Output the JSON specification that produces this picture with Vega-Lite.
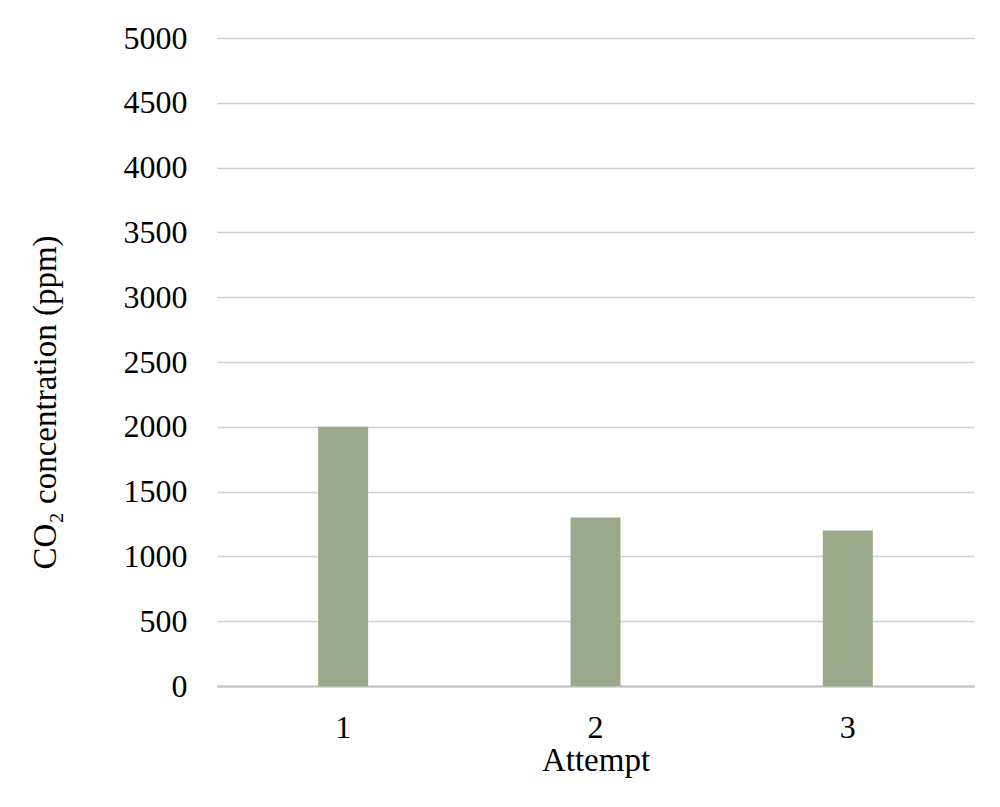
{
  "$schema": "https://vega.github.io/schema/vega-lite/v6.json",
  "autosize": {"type": "none"},
  "padding": {"left": 215, "top": 38, "right": 28, "bottom": 121},
  "width": 757,
  "height": 648,
  "background": "white",
  "data": {"values": [
    {"attempt": "1", "co2": 2000},
    {"attempt": "2", "co2": 1300},
    {"attempt": "3", "co2": 1200}
  ]},
  "mark": {"type": "bar", "size": 50, "color": "#99a98a"},
  "encoding": {
    "x": {
      "field": "attempt", "type": "nominal",
      "scale": {"paddingInner": 0, "paddingOuter": 0, "range": [2, 759]},
      "axis": {
        "title": "Attempt", "labelAngle": 0, "ticks": false,
        "domainColor": "#bfbfbf", "domainWidth": 2,
        "labelFont": "Liberation Serif", "labelFontSize": 32, "labelColor": "#000000",
        "labelPadding": 26,
        "titleFont": "Liberation Serif", "titleFontSize": 33, "titleFontWeight": "normal", "titleColor": "#000000",
        "titlePadding": 1
      }
    },
    "y": {
      "field": "co2", "type": "quantitative",
      "scale": {"domain": [0, 5000]},
      "axis": {
        "title": "CO₂ concentration (ppm)",
        "values": [0, 500, 1000, 1500, 2000, 2500, 3000, 3500, 4000, 4500, 5000],
        "format": "d",
        "domain": false, "ticks": false,
        "gridColor": "#d0d0d0", "gridWidth": 1.5,
        "labelFont": "Liberation Serif", "labelFontSize": 32, "labelColor": "#000000",
        "labelPadding": 28,
        "titleFont": "Liberation Serif", "titleFontSize": 33, "titleFontWeight": "normal", "titleColor": "#000000",
        "titleX": -170, "titleY": 364, "titleAlign": "center", "titleBaseline": "middle", "titleAngle": -90
      }
    }
  },
  "config": {"view": {"stroke": null}}
}
